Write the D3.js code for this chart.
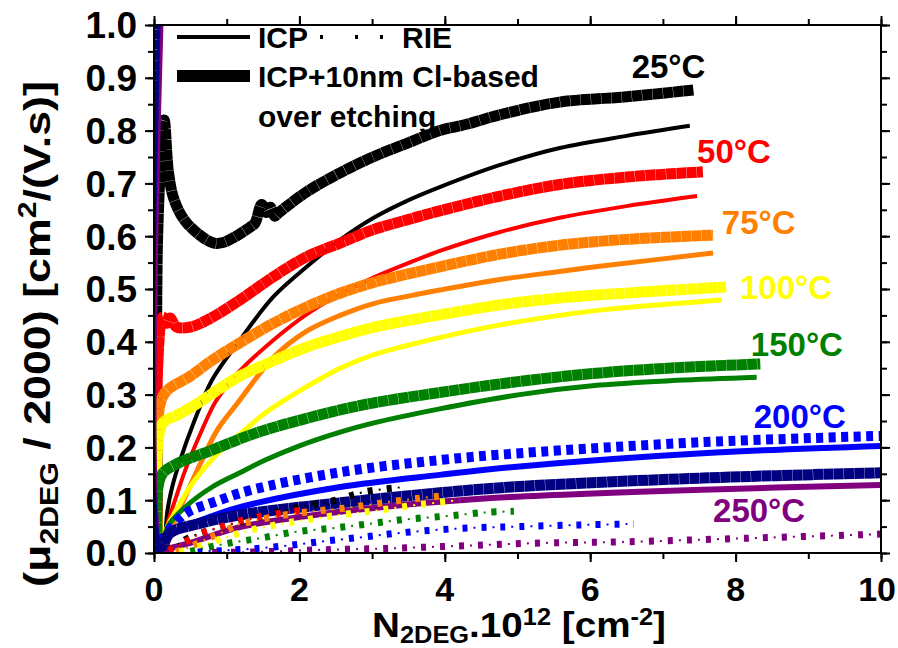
<!DOCTYPE html>
<html><head><meta charset="utf-8">
<script src="https://cdn.jsdelivr.net/npm/d3@7"></script>
<style>
body{margin:0;background:#fff}
svg{display:block}
text{font-family:Arial,"Liberation Sans",sans-serif;font-weight:bold}
</style>
</head><body>
<svg id="chart" width="898" height="648"></svg>
<script>
// ---------- data (x = N2DEG 1e12 cm^-2, y = mu/2000) ----------
const xMajorTicks = [0,2,4,6,8,10];
const yMajorTicks = [0,0.1,0.2,0.3,0.4,0.5,0.6,0.7,0.8,0.9,1.0];

const temperatureLabels = ["25°C","50°C","75°C","100°C","150°C","200°C","250°C"];
const temperatureColors = ["#000000","#ff0000","#ff8000","#ffff00","#008000","#0000ff","#800080"];
const labelAnchors = [[6.57,0.90],[7.47,0.739],[7.81,0.604],[8.06,0.481],[8.21,0.373],[8.25,0.237],[7.69,0.059]];

// ICP + 10nm Cl-based over etching (thick lines)
const thick25 = [[0.05,0],[0.05,0.6],[0.14,0.82],[0.2,0.72],[0.28,0.668],[0.45,0.625],[0.8,0.588],[0.95,0.588],[1.32,0.617],[1.39,0.625],[1.48,0.66],[1.55,0.645],[1.6,0.655],[1.66,0.638],[1.72,0.645],[2.1,0.684],[2.56,0.72],[3.01,0.75],[3.48,0.776],[3.93,0.80],[4.3,0.812],[4.76,0.83],[5.58,0.854],[6.5,0.864],[7.42,0.877]];
const thick50 = [[0.05,0],[0.05,0.35],[0.12,0.447],[0.18,0.435],[0.22,0.445],[0.31,0.428],[0.5,0.428],[0.73,0.441],[1.18,0.479],[1.64,0.523],[2.1,0.561],[2.56,0.587],[3.01,0.612],[3.48,0.631],[3.93,0.648],[4.76,0.676],[5.58,0.698],[6.5,0.712],[7.55,0.722]];
const thick75 = [[0.05,0],[0.05,0.25],[0.15,0.303],[0.5,0.335],[0.8,0.365],[1.18,0.398],[1.64,0.435],[2.1,0.466],[2.56,0.492],[3.01,0.512],[3.48,0.528],[3.93,0.542],[4.76,0.566],[5.58,0.583],[6.5,0.594],[7.69,0.602]];
const thick100 = [[0.05,0],[0.05,0.2],[0.12,0.246],[0.33,0.262],[0.56,0.28],[0.8,0.302],[1.18,0.335],[1.53,0.357],[2.1,0.39],[2.56,0.41],[3.01,0.427],[3.48,0.44],[3.93,0.451],[4.76,0.47],[5.58,0.483],[6.13,0.489],[7.87,0.504]];
const thick150 = [[0.05,0],[0.05,0.12],[0.12,0.151],[0.33,0.17],[0.8,0.195],[1.18,0.216],[1.53,0.233],[2.1,0.255],[2.56,0.271],[3.01,0.284],[3.93,0.304],[5.03,0.325],[6.13,0.341],[7.2,0.351],[8.34,0.358]];
const thick200 = [[0.04,0],[0.1,0.02],[0.29,0.057],[0.47,0.078],[0.84,0.097],[1.3,0.118],[2.56,0.153],[3.93,0.176],[5.03,0.189],[7.55,0.21],[10.05,0.222]];
const thick250 = [[0.025,1.05],[0.025,0.02],[0.1,0.012],[0.22,0.038],[0.6,0.055],[1.18,0.072],[2.56,0.095],[3.93,0.114],[5.03,0.126],[7.55,0.142],[10.05,0.152]];

// ICP (thin solid lines)
const icp25 = [[0.15,0],[0.18,0.075],[0.25,0.125],[0.36,0.176],[0.56,0.252],[0.8,0.328],[1.18,0.403],[1.64,0.485],[2.1,0.542],[2.56,0.593],[3.01,0.634],[3.48,0.667],[3.93,0.693],[4.76,0.735],[5.58,0.767],[6.5,0.79],[7.37,0.809]];
const icp50 = [[0.13,0],[0.19,0.057],[0.29,0.10],[0.43,0.157],[0.66,0.233],[0.84,0.285],[1.05,0.325],[1.18,0.345],[1.64,0.403],[2.1,0.452],[2.56,0.49],[3.01,0.521],[3.48,0.548],[3.93,0.572],[4.76,0.608],[5.58,0.635],[6.5,0.657],[7.47,0.676]];
const icp75 = [[0.15,0],[0.29,0.063],[0.47,0.119],[0.66,0.176],[0.88,0.235],[1.15,0.284],[1.64,0.37],[2.1,0.42],[2.56,0.45],[3.01,0.472],[3.48,0.486],[3.93,0.498],[4.76,0.518],[5.58,0.533],[6.13,0.543],[7.69,0.568]];
const icp100 = [[0.12,0],[0.15,0.038],[0.33,0.087],[0.56,0.138],[0.88,0.189],[1.25,0.233],[1.53,0.265],[2.1,0.315],[2.56,0.35],[3.01,0.375],[3.48,0.393],[3.93,0.408],[4.76,0.432],[5.58,0.45],[6.13,0.46],[7.81,0.479]];
const icp150 = [[0.12,0],[0.19,0.05],[0.43,0.087],[0.8,0.125],[1.18,0.152],[1.53,0.176],[2.0,0.203],[2.56,0.229],[3.01,0.246],[3.93,0.273],[5.03,0.3],[6.13,0.318],[7.2,0.327],[8.29,0.333]];
const icp200 = [[0.06,0],[0.15,0.025],[0.4,0.048],[0.8,0.07],[1.18,0.087],[2.56,0.125],[3.93,0.148],[5.03,0.164],[7.55,0.189],[10.05,0.203]];
const icp250 = [[0.1,1.05],[0.1,0.0],[0.2,0.008],[0.5,0.019],[1.18,0.049],[2.56,0.078],[3.93,0.097],[4.9,0.106],[7.55,0.12],[10.05,0.129]];

// RIE (dotted lines)
const rie25 = [[0.2,0.005],[0.5,0.03],[1.0,0.052],[1.5,0.07],[2.0,0.087],[2.5,0.1],[2.9,0.116],[3.45,0.125]];
const rie50 = [[0.2,0.005],[0.4,0.019],[0.66,0.038],[0.91,0.049],[1.14,0.059],[1.42,0.068],[1.87,0.078],[2.2,0.083]];
const rie75 = [[0.3,0.002],[0.47,0.01],[0.7,0.025],[0.95,0.04],[1.18,0.055],[1.36,0.06],[1.62,0.068],[2.12,0.078],[2.63,0.085],[3.14,0.095],[3.66,0.104],[3.95,0.108]];
const rie100 = [[0.35,0.002],[0.6,0.012],[1.0,0.03],[1.35,0.044],[1.83,0.057],[2.56,0.072],[3.09,0.081],[3.61,0.091],[4.2,0.1]];
const rie150 = [[0.5,0.003],[1.0,0.018],[1.46,0.028],[1.94,0.04],[2.45,0.047],[2.94,0.055],[3.48,0.064],[4.03,0.07],[4.58,0.077],[4.95,0.079]];
const rie200 = [[0.6,0.002],[1.0,0.005],[1.46,0.009],[1.9,0.015],[2.38,0.023],[2.87,0.03],[3.38,0.038],[3.91,0.044],[4.46,0.048],[5.0,0.05],[5.8,0.053],[6.6,0.055]];
const rie250 = [[0.8,0.001],[1.41,0.002],[2.28,0.006],[3.29,0.009],[4.3,0.014],[5.34,0.019],[6.44,0.021],[8.16,0.028],[10.05,0.036]];

// ---------- layout ----------
const svg = d3.select("#chart");
const M = {left:154, top:25, right:881, bottom:553};
const x = d3.scaleLinear().domain([0,10]).range([M.left, M.right]);
const y = d3.scaleLinear().domain([0,1]).range([M.bottom, M.top]);

svg.append("defs").append("clipPath").attr("id","clip")
  .append("rect").attr("x",M.left).attr("y",M.top).attr("width",M.right-M.left).attr("height",M.bottom-M.top);

const line = d3.line().x(d=>x(d[0])).y(d=>y(d[1])).curve(d3.curveCatmullRom.alpha(0.5));
const g = svg.append("g").attr("clip-path","url(#clip)");

const thin = [icp25,icp50,icp75,icp100,icp150,icp200,icp250];
const thinW = [4,4,5,5,5,6,6];
const thick = [thick25,thick50,thick75,thick100,thick150,thick200,thick250];
const thickColors = ["#000000","#ff0000","#ff8000","#ffff00","#008000","#0000ff","#000080"];
const rie = [rie25,rie50,rie75,rie100,rie150,rie200,rie250];

function drawThin(i){
  g.append("path").datum(thin[i]).attr("d",line).attr("fill","none")
   .attr("stroke",temperatureColors[i]).attr("stroke-width",thinW[i]).attr("stroke-linejoin","round");
}
function drawThick(i){
  const p = g.append("path").datum(thick[i]).attr("d",line).attr("fill","none")
   .attr("stroke",thickColors[i]).attr("stroke-width",11).attr("stroke-linejoin","round")
   .attr("stroke-dasharray","10 0.3");
  if(i===5) p.attr("stroke-dasharray","7 5.5").attr("stroke-width",10);
}
[0,1,2,3,4,5].forEach(drawThin);
[0,1,2,3,4,5].forEach(drawThick);
drawThin(6);
drawThick(6);

// dotted RIE lines
rie.forEach((s,i)=>{
  g.append("path").datum(s).attr("d",line).attr("fill","none")
   .attr("stroke",temperatureColors[i]).attr("stroke-width",7).attr("stroke-dasharray","5 14");
  g.append("path").datum(s).attr("d",line).attr("fill","none")
   .attr("stroke",temperatureColors[i]).attr("stroke-width",2).attr("stroke-dasharray","2 17").attr("stroke-dashoffset",-11);
});

// ---------- axes ----------
const axStyle = sel => { sel.selectAll("path,line").attr("stroke","#000").attr("stroke-width",2); sel.select(".domain").remove(); };
const xMinor = d3.range(0,10.01,1), yMinor = d3.range(0,1.001,0.05);
svg.append("g").attr("transform",`translate(0,${M.bottom})`).call(d3.axisBottom(x).tickValues(xMinor).tickSize(6).tickFormat("")).call(axStyle);
svg.append("g").attr("transform",`translate(0,${M.bottom})`).call(d3.axisBottom(x).tickValues(xMajorTicks).tickSize(9).tickFormat("")).call(axStyle);
svg.append("g").attr("transform",`translate(0,${M.top})`).call(d3.axisTop(x).tickValues(xMinor).tickSize(6).tickFormat("")).call(axStyle);
svg.append("g").attr("transform",`translate(0,${M.top})`).call(d3.axisTop(x).tickValues(xMajorTicks).tickSize(9).tickFormat("")).call(axStyle);
svg.append("g").attr("transform",`translate(${M.left},0)`).call(d3.axisLeft(y).tickValues(yMinor).tickSize(6).tickFormat("")).call(axStyle);
svg.append("g").attr("transform",`translate(${M.left},0)`).call(d3.axisLeft(y).tickValues(yMajorTicks).tickSize(9).tickFormat("")).call(axStyle);
svg.append("g").attr("transform",`translate(${M.right},0)`).call(d3.axisRight(y).tickValues(yMinor).tickSize(6).tickFormat("")).call(axStyle);
svg.append("g").attr("transform",`translate(${M.right},0)`).call(d3.axisRight(y).tickValues(yMajorTicks).tickSize(9).tickFormat("")).call(axStyle);
svg.append("rect").attr("x",M.left).attr("y",M.top).attr("width",M.right-M.left).attr("height",M.bottom-M.top)
  .attr("fill","none").attr("stroke","#000").attr("stroke-width",2);

// tick labels (last x label kept inside the canvas)
svg.append("g").selectAll("text").data(xMajorTicks).join("text")
  .attr("x",d=>d===10 ? 896 : x(d)).attr("y",601)
  .attr("text-anchor",d=>d===10 ? "end" : "middle").attr("font-size",34).text(d=>d);
svg.append("g").selectAll("text").data(yMajorTicks).join("text")
  .attr("x",137).attr("y",d=>y(d)).attr("dy","0.36em").attr("text-anchor","end").attr("font-size",37).text(d=>d.toFixed(1));

// axis titles (stretched horizontally to the reference length)
function fitText(t, target){ const w = t.node().getComputedTextLength(); return target / w; }
const xt = svg.append("text").attr("x",0).attr("y",0).attr("text-anchor","middle").attr("font-size",35);
xt.append("tspan").text("N");
xt.append("tspan").attr("font-size",23).attr("dy",6).text("2DEG");
xt.append("tspan").attr("dy",-6).text(".10");
xt.append("tspan").attr("font-size",23).attr("dy",-12).text("12");
xt.append("tspan").attr("dy",12).text(" [cm");
xt.append("tspan").attr("font-size",23).attr("dy",-12).text("-2");
xt.append("tspan").attr("dy",12).text("]");
xt.attr("transform",`translate(519,637) scale(${fitText(xt,294)},1)`);

const yt = svg.append("text").attr("x",0).attr("y",0).attr("text-anchor","middle").attr("font-size",37);
yt.append("tspan").text("(μ");
yt.append("tspan").attr("font-size",25).attr("dy",8).text("2DEG");
yt.append("tspan").attr("dy",-8).text(" / 2000) [cm");
yt.append("tspan").attr("font-size",25).attr("dy",-14).text("2");
yt.append("tspan").attr("dy",14).text("/(V.s)]");
yt.attr("transform",`translate(50,334) rotate(-90) scale(${fitText(yt,506)},1)`);

// legend
svg.append("line").attr("x1",177).attr("x2",250).attr("y1",37).attr("y2",37).attr("stroke","#000").attr("stroke-width",4);
svg.append("text").attr("x",258).attr("y",48).attr("font-size",30).text("ICP");
svg.append("line").attr("x1",320).attr("x2",392).attr("y1",37).attr("y2",37).attr("stroke","#000").attr("stroke-width",4).attr("stroke-dasharray","3 32 3 22 3 40");
svg.append("text").attr("x",402).attr("y",48).attr("font-size",30).text("RIE");
svg.append("line").attr("x1",177).attr("x2",250).attr("y1",76).attr("y2",76).attr("stroke","#000").attr("stroke-width",12);
svg.append("text").attr("x",258).attr("y",87).attr("font-size",30).text("ICP+10nm Cl-based");
svg.append("text").attr("x",258).attr("y",127).attr("font-size",30).text("over etching");

// temperature labels
svg.append("g").selectAll("text").data(temperatureLabels).join("text")
  .attr("x",(d,i)=>x(labelAnchors[i][0])).attr("y",(d,i)=>y(labelAnchors[i][1]))
  .attr("font-size",33).attr("fill",(d,i)=>temperatureColors[i]).text(d=>d);
</script>
</body></html>
